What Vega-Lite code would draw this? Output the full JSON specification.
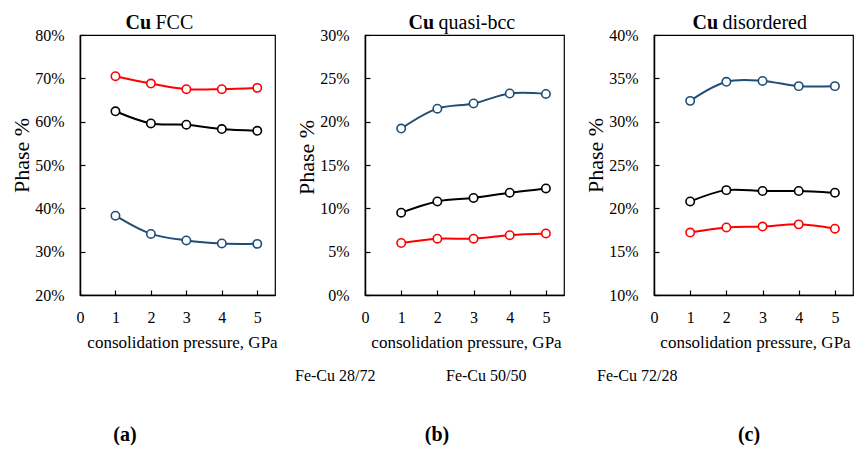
{
  "$schema": "https://vega.github.io/schema/vega-lite/v6.json",
  "padding": {"left": 10, "top": 12, "right": 0, "bottom": 0},
  "background": "white",
  "datasets": {
    "phases": [
      {"phase": "FCC", "alloy": "Fe-Cu 28/72", "p": 1, "v": 70.5},
      {"phase": "FCC", "alloy": "Fe-Cu 28/72", "p": 2, "v": 68.8},
      {"phase": "FCC", "alloy": "Fe-Cu 28/72", "p": 3, "v": 67.5},
      {"phase": "FCC", "alloy": "Fe-Cu 28/72", "p": 4, "v": 67.5},
      {"phase": "FCC", "alloy": "Fe-Cu 28/72", "p": 5, "v": 67.8},
      {"phase": "FCC", "alloy": "Fe-Cu 50/50", "p": 1, "v": 62.4},
      {"phase": "FCC", "alloy": "Fe-Cu 50/50", "p": 2, "v": 59.6},
      {"phase": "FCC", "alloy": "Fe-Cu 50/50", "p": 3, "v": 59.3},
      {"phase": "FCC", "alloy": "Fe-Cu 50/50", "p": 4, "v": 58.3},
      {"phase": "FCC", "alloy": "Fe-Cu 50/50", "p": 5, "v": 57.9},
      {"phase": "FCC", "alloy": "Fe-Cu 72/28", "p": 1, "v": 38.3},
      {"phase": "FCC", "alloy": "Fe-Cu 72/28", "p": 2, "v": 34.1},
      {"phase": "FCC", "alloy": "Fe-Cu 72/28", "p": 3, "v": 32.6},
      {"phase": "FCC", "alloy": "Fe-Cu 72/28", "p": 4, "v": 31.9},
      {"phase": "FCC", "alloy": "Fe-Cu 72/28", "p": 5, "v": 31.8},
      {"phase": "quasi-bcc", "alloy": "Fe-Cu 28/72", "p": 1, "v": 6.0},
      {"phase": "quasi-bcc", "alloy": "Fe-Cu 28/72", "p": 2, "v": 6.5},
      {"phase": "quasi-bcc", "alloy": "Fe-Cu 28/72", "p": 3, "v": 6.5},
      {"phase": "quasi-bcc", "alloy": "Fe-Cu 28/72", "p": 4, "v": 6.9},
      {"phase": "quasi-bcc", "alloy": "Fe-Cu 28/72", "p": 5, "v": 7.1},
      {"phase": "quasi-bcc", "alloy": "Fe-Cu 50/50", "p": 1, "v": 9.5},
      {"phase": "quasi-bcc", "alloy": "Fe-Cu 50/50", "p": 2, "v": 10.8},
      {"phase": "quasi-bcc", "alloy": "Fe-Cu 50/50", "p": 3, "v": 11.2},
      {"phase": "quasi-bcc", "alloy": "Fe-Cu 50/50", "p": 4, "v": 11.8},
      {"phase": "quasi-bcc", "alloy": "Fe-Cu 50/50", "p": 5, "v": 12.3},
      {"phase": "quasi-bcc", "alloy": "Fe-Cu 72/28", "p": 1, "v": 19.2},
      {"phase": "quasi-bcc", "alloy": "Fe-Cu 72/28", "p": 2, "v": 21.5},
      {"phase": "quasi-bcc", "alloy": "Fe-Cu 72/28", "p": 3, "v": 22.1},
      {"phase": "quasi-bcc", "alloy": "Fe-Cu 72/28", "p": 4, "v": 23.25},
      {"phase": "quasi-bcc", "alloy": "Fe-Cu 72/28", "p": 5, "v": 23.2},
      {"phase": "disordered", "alloy": "Fe-Cu 28/72", "p": 1, "v": 17.2},
      {"phase": "disordered", "alloy": "Fe-Cu 28/72", "p": 2, "v": 17.8},
      {"phase": "disordered", "alloy": "Fe-Cu 28/72", "p": 3, "v": 17.9},
      {"phase": "disordered", "alloy": "Fe-Cu 28/72", "p": 4, "v": 18.15},
      {"phase": "disordered", "alloy": "Fe-Cu 28/72", "p": 5, "v": 17.65},
      {"phase": "disordered", "alloy": "Fe-Cu 50/50", "p": 1, "v": 20.8},
      {"phase": "disordered", "alloy": "Fe-Cu 50/50", "p": 2, "v": 22.1},
      {"phase": "disordered", "alloy": "Fe-Cu 50/50", "p": 3, "v": 22.0},
      {"phase": "disordered", "alloy": "Fe-Cu 50/50", "p": 4, "v": 22.0},
      {"phase": "disordered", "alloy": "Fe-Cu 50/50", "p": 5, "v": 21.8},
      {"phase": "disordered", "alloy": "Fe-Cu 72/28", "p": 1, "v": 32.4},
      {"phase": "disordered", "alloy": "Fe-Cu 72/28", "p": 2, "v": 34.6},
      {"phase": "disordered", "alloy": "Fe-Cu 72/28", "p": 3, "v": 34.7},
      {"phase": "disordered", "alloy": "Fe-Cu 72/28", "p": 4, "v": 34.1},
      {"phase": "disordered", "alloy": "Fe-Cu 72/28", "p": 5, "v": 34.1}
    ],
    "captions": [
      {"panel": "a", "cap": "(a)"},
      {"panel": "b", "cap": "(b)"},
      {"panel": "c", "cap": "(c)"}
    ]
  },
  "vconcat": [
    {
      "bounds": "flush",
      "spacing": 90,
      "hconcat": [
        {
          "width": 195,
          "height": 260,
          "data": {"name": "phases"},
          "title": {"text": "Cu", "subtitle": "\u200b\u00a0\u00a0\u00a0\u00a0\u00a0\u00a0FCC", "dx": -52, "align": "left", "anchor": "middle", "frame": "group"},
          "transform": [{"filter": "datum.phase === 'FCC'"}],
          "mark": {"type": "line", "interpolate": "catmull-rom", "strokeWidth": 2, "point": {"filled": false, "fill": "white", "size": 70, "strokeWidth": 1.6}},
          "encoding": {
            "x": {"field": "p", "type": "quantitative", "scale": {"domain": [0, 5.5], "nice": false}, "axis": {"values": [0, 1, 2, 3, 4, 5], "title": "consolidation pressure, GPa", "labelFont": "Liberation Serif", "titleFont": "Liberation Serif", "titleX": 102}},
            "y": {"field": "v", "type": "quantitative", "scale": {"domain": [20, 80], "nice": false, "zero": false}, "axis": {"values": [20, 30, 40, 50, 60, 70, 80], "labelExpr": "datum.value + '%'", "title": "Phase %", "labelFont": "Liberation Serif", "titleFont": "Liberation Serif", "titleY": 120}},
            "color": {"field": "alloy", "type": "nominal", "scale": {"domain": ["Fe-Cu 28/72", "Fe-Cu 50/50", "Fe-Cu 72/28"], "range": ["#ff0000", "#000000", "#1f4e79"]}, "legend": {"orient": "none", "legendX": 199, "legendY": 333, "direction": "horizontal", "title": null}}
          }
        },
        {
          "width": 199,
          "height": 260,
          "data": {"name": "phases"},
          "title": {"text": "Cu", "subtitle": "\u200b\u00a0\u00a0\u00a0\u00a0\u00a0\u00a0quasi-bcc", "dx": -56, "align": "left", "anchor": "middle", "frame": "group"},
          "transform": [{"filter": "datum.phase === 'quasi-bcc'"}],
          "mark": {"type": "line", "interpolate": "catmull-rom", "strokeWidth": 2, "point": {"filled": false, "fill": "white", "size": 70, "strokeWidth": 1.6}},
          "encoding": {
            "x": {"field": "p", "type": "quantitative", "scale": {"domain": [0, 5.5], "nice": false}, "axis": {"values": [0, 1, 2, 3, 4, 5], "title": "consolidation pressure, GPa", "labelFont": "Liberation Serif", "titleFont": "Liberation Serif", "titleX": 101}},
            "y": {"field": "v", "type": "quantitative", "scale": {"domain": [0, 30], "nice": false, "zero": false}, "axis": {"values": [0, 5, 10, 15, 20, 25, 30], "labelExpr": "datum.value + '%'", "title": "Phase %", "labelFont": "Liberation Serif", "titleFont": "Liberation Serif", "titleY": 122}},
            "color": {"field": "alloy", "type": "nominal", "scale": {"domain": ["Fe-Cu 28/72", "Fe-Cu 50/50", "Fe-Cu 72/28"], "range": ["#ff0000", "#000000", "#1f4e79"]}, "legend": {"orient": "none", "legendX": 199, "legendY": 333, "direction": "horizontal", "title": null}}
          }
        },
        {
          "width": 199,
          "height": 260,
          "data": {"name": "phases"},
          "title": {"text": "Cu", "subtitle": "\u200b\u00a0\u00a0\u00a0\u00a0\u00a0\u00a0disordered", "dx": -61, "align": "left", "anchor": "middle", "frame": "group"},
          "transform": [{"filter": "datum.phase === 'disordered'"}],
          "mark": {"type": "line", "interpolate": "catmull-rom", "strokeWidth": 2, "point": {"filled": false, "fill": "white", "size": 70, "strokeWidth": 1.6}},
          "encoding": {
            "x": {"field": "p", "type": "quantitative", "scale": {"domain": [0, 5.5], "nice": false}, "axis": {"values": [0, 1, 2, 3, 4, 5], "title": "consolidation pressure, GPa", "labelFont": "Liberation Serif", "titleFont": "Liberation Serif", "titleX": 101}},
            "y": {"field": "v", "type": "quantitative", "scale": {"domain": [10, 40], "nice": false, "zero": false}, "axis": {"values": [10, 15, 20, 25, 30, 35, 40], "labelExpr": "datum.value + '%'", "title": "Phase %", "labelFont": "Liberation Serif", "titleFont": "Liberation Serif", "titleY": 120}},
            "color": {"field": "alloy", "type": "nominal", "scale": {"domain": ["Fe-Cu 28/72", "Fe-Cu 50/50", "Fe-Cu 72/28"], "range": ["#ff0000", "#000000", "#1f4e79"]}, "legend": {"orient": "none", "legendX": 199, "legendY": 333, "direction": "horizontal", "title": null}}
          }
        }
      ]
    },
    {
      "bounds": "flush",
      "spacing": 222,
      "hconcat": [
        {"width": 90, "height": 20, "view": {"stroke": null}, "data": {"name": "captions"}, "transform": [{"filter": "datum.panel === 'a'"}], "mark": {"type": "text", "font": "Liberation Serif", "fontSize": 20, "fontWeight": "bold", "color": "#000"}, "encoding": {"text": {"field": "cap"}}},
        {"width": 90, "height": 20, "view": {"stroke": null}, "data": {"name": "captions"}, "transform": [{"filter": "datum.panel === 'b'"}], "mark": {"type": "text", "font": "Liberation Serif", "fontSize": 20, "fontWeight": "bold", "color": "#000"}, "encoding": {"text": {"field": "cap"}}},
        {"width": 90, "height": 20, "view": {"stroke": null}, "data": {"name": "captions"}, "transform": [{"filter": "datum.panel === 'c'"}], "mark": {"type": "text", "font": "Liberation Serif", "fontSize": 20, "fontWeight": "bold", "color": "#000"}, "encoding": {"text": {"field": "cap"}}}
      ]
    }
  ],
  "bounds": "flush",
  "spacing": 390,
  "config": {
    "font": "Liberation Serif",
    "view": {"stroke": "#000", "strokeWidth": 1.2},
    "title": {"font": "Liberation Serif", "fontSize": 20, "fontWeight": "bold", "color": "#000", "baseline": "top", "offset": -6, "subtitleFont": "Liberation Serif", "subtitleFontSize": 20, "subtitleFontWeight": "normal", "subtitleColor": "#000", "subtitlePadding": -20},
    "axis": {"grid": false, "labelFont": "Liberation Serif", "labelFontSize": 16, "labelColor": "#000", "titleFont": "Liberation Serif", "titleFontWeight": "normal", "titleColor": "#000", "domainColor": "#000", "domainWidth": 1.5, "tickColor": "#000", "tickWidth": 1.2, "tickSize": -5, "labelFlush": false, "labelOverlap": false},
    "axisX": {"labelPadding": 19, "titleFontSize": 17, "titlePadding": 9},
    "axisY": {"labelPadding": 21, "titleFontSize": 22, "titlePadding": 1},
    "legend": {"labelFont": "Liberation Serif", "labelFontSize": 16, "labelColor": "#000", "symbolOpacity": 0, "symbolSize": 0, "symbolStrokeWidth": 0, "labelOffset": 0, "columnPadding": 54}
  }
}
